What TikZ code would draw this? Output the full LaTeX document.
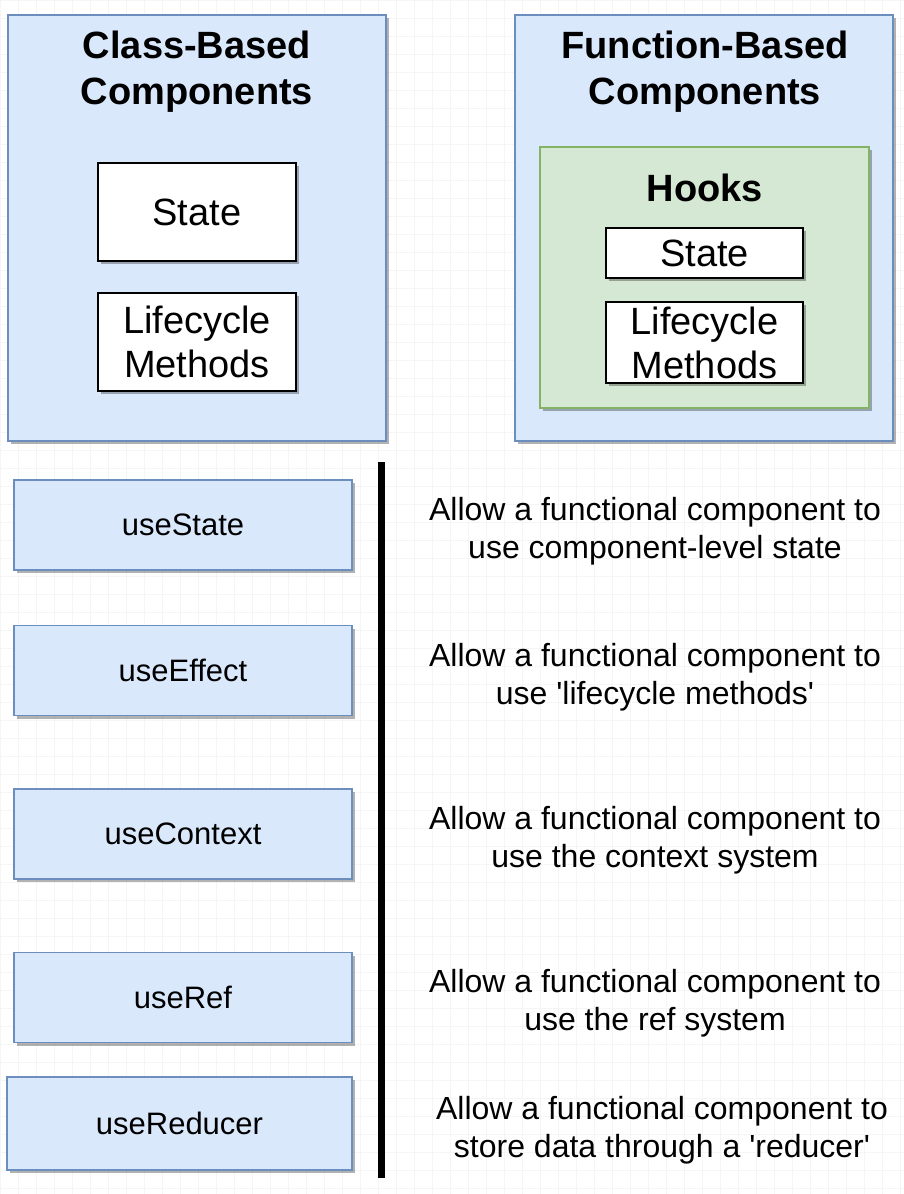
\documentclass[tikz,border=0pt]{standalone}
\usepackage{fontspec}
\setmainfont{Liberation Sans}
\usepackage{tikz}
\usetikzlibrary{shadows}
\definecolor{outerBlue}{HTML}{DAE8FC}
\definecolor{outerBlueLine}{HTML}{6C8EBF}
\definecolor{hookGreen}{HTML}{D5E8D4}
\definecolor{hookGreenLine}{HTML}{82B366}
\tikzset{boxShadow/.style={drop shadow={shadow xshift=3pt, shadow yshift=-3pt, fill=black, opacity=0.3}}}
\tikzset{outerBox/.style={draw=outerBlueLine, line width=1.6pt, fill=outerBlue, boxShadow, minimum width=378pt, minimum height=426pt, inner sep=0pt}}
\tikzset{hooksBox/.style={draw=hookGreenLine, line width=1.6pt, fill=hookGreen, boxShadow, minimum width=329pt, minimum height=261pt, inner sep=0pt}}
\tikzset{whiteBox/.style={draw=black, line width=2pt, fill=white, boxShadow, inner sep=0pt, align=center, font=\fontsize{38}{44}\selectfont}}
\tikzset{hookName/.style={draw=outerBlueLine, line width=1.6pt, fill=outerBlue, boxShadow, minimum width=338pt, minimum height=90pt, inner sep=0pt, font=\fontsize{31}{37}\selectfont}}
\tikzset{titleText/.style={align=center, inner sep=0pt, font=\bfseries\fontsize{38}{46}\selectfont}}
\tikzset{descText/.style={align=center, inner sep=0pt, font=\addfontfeature{Ligatures=TeXOff}\fontsize{32}{38}\selectfont}}
\tikzset{gridline/.style={draw=black!4, line width=0.6pt}}
\begin{document}
\begin{tikzpicture}[x=1pt, y=-1pt]
\useasboundingbox (0,0) rectangle (904,1194);
\fill[white] (0,0) rectangle (904,1194);
\draw[gridline] (0,0) grid[step=18pt] (904,1194);

% class based side
\node[outerBox] (classBox) at (197, 228) {};
\node[titleText] (classTitle) at (197, 72) {Class-Based\\Components};
\node[whiteBox, minimum width=198pt, minimum height=98pt] (classState) at (197, 212) {State};
\node[whiteBox, minimum width=198pt, minimum height=98pt] (classLife) at (197, 342) {Lifecycle\\Methods};

% function based side
\node[outerBox] (funcBox) at (704, 228) {};
\node[titleText] (funcTitle) at (705, 72) {Function-Based\\Components};
\node[hooksBox] (hooks) at (704.5, 277.5) {};
\node[titleText] (hooksTitle) at (705, 188) {Hooks};
\node[whiteBox, minimum width=197pt, minimum height=50pt] (hookState) at (704.5, 253) {State};
\node[whiteBox, minimum width=197pt, minimum height=81pt] (hookLife) at (704.5, 342.5) {Lifecycle\\Methods};

% list of hooks
\node[hookName] (h1) at (183, 525) {\raisebox{-2pt}{useState}};
\node[hookName] (h2) at (183, 670.5) {\raisebox{-2pt}{useEffect}};
\node[hookName] (h3) at (183, 834) {\raisebox{-2pt}{useContext}};
\node[hookName] (h4) at (183, 997.5) {\raisebox{-2pt}{useRef}};
\node[hookName, minimum width=345pt, minimum height=93pt] (h5) at (179.5, 1123.5) {\raisebox{-2pt}{useReducer}};

\coordinate (sepTop) at (381, 462);
\coordinate (sepBottom) at (381, 1178);
\draw[line width=7pt] (sepTop) -- (sepBottom);

\node[descText] (d1) at (655, 531) {Allow a functional component to\\use component-level state};
\node[descText] (d2) at (655, 677) {Allow a functional component to\\use 'lifecycle methods'};
\node[descText] (d3) at (655, 840) {Allow a functional component to\\use the context system};
\node[descText] (d4) at (655, 1003) {Allow a functional component to\\use the ref system};
\node[descText] (d5) at (662, 1130) {Allow a functional component to\\store data through a 'reducer'};

\end{tikzpicture}
\end{document}
